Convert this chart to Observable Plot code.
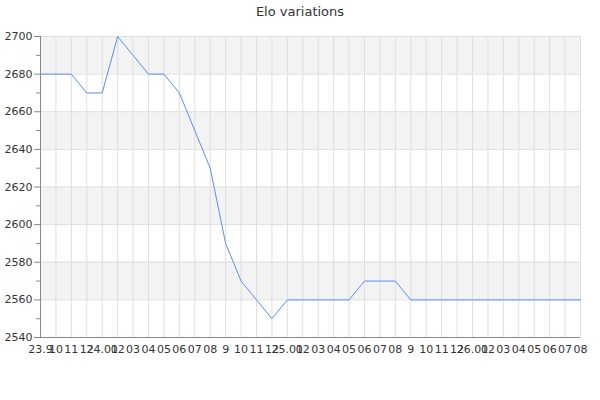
<!DOCTYPE html>
<html>
<head>
<meta charset="utf-8">
<script src="https://cdn.jsdelivr.net/npm/d3@7"></script>
<script src="https://cdn.jsdelivr.net/npm/@observablehq/plot@0.6"></script>
<style>
  body { margin: 0; background: #fff; font-family: "DejaVu Sans", sans-serif; }
  #title { height: 24px; line-height: 24px; text-align: center; font-size: 13px; color: #333; width: 600px; }
</style>
</head>
<body>
<div id="title">Elo variations</div>
<div id="chart"></div>
<script>
const tickLabels = ["23.9","10","11","12","24.01","02","03","04","05","06","07","08","9","10","11","12","25.01","02","03","04","05","06","07","08","9","10","11","12","26.01","02","03","04","05","06","07","08"];
const elo = [2680,2680,2680,2670,2670,2700,2690,2680,2680,2670,2650,2630,2590,2570,2560,2550,2560,2560,2560,2560,2560,2570,2570,2570,2560,2560,2560,2560,2560,2560,2560,2560,2560,2560,2560,2560];
const bandStarts = [2560, 2600, 2640, 2680];
const bandSize = 20;
const yMajor = [2540,2560,2580,2600,2620,2640,2660,2680,2700];
const yMinor = [2550,2570,2590,2610,2630,2650,2670,2690];

const idx = d3.range(elo.length);
const points = idx.map(i => ({i, v: elo[i]}));
const bands = bandStarts.map(b => ({y1: b, y2: b + bandSize}));

const chart = Plot.plot({
  width: 600,
  height: 376,
  marginTop: 12,
  marginBottom: 63,
  marginLeft: 40,
  marginRight: 20,
  style: {fontFamily: "DejaVu Sans, sans-serif", fontSize: "11px", color: "#333", background: "#fff"},
  x: {type: "linear", domain: [0, elo.length - 1]},
  y: {domain: [2540, 2700]},
  marks: [
    Plot.rect(bands, {y1: "y1", y2: "y2", fill: "#f3f3f3"}),
    Plot.gridX(idx, {stroke: "#dedede", strokeOpacity: 1}),
    Plot.gridY(yMajor, {stroke: "#dedede", strokeOpacity: 1}),
    Plot.axisX(idx, {tickSize: 0, tickPadding: 8, tickFormat: i => tickLabels[i], label: null, fill: "#333"}),
    Plot.axisY(yMinor, {tickSize: 4, tickFormat: () => "", label: null, stroke: "#888"}),
    Plot.axisY(yMajor, {tickSize: 6, tickPadding: 2, label: null, stroke: "#888", fill: "#333", tickFormat: d => String(d)}),
    Plot.ruleX([0], {stroke: "#888"}),
    Plot.ruleY([2540], {stroke: "#888"}),
    Plot.line(points, {x: "i", y: "v", stroke: "#5b8def", strokeWidth: 1})
  ]
});
document.getElementById("chart").appendChild(chart);
</script>
</body>
</html>
